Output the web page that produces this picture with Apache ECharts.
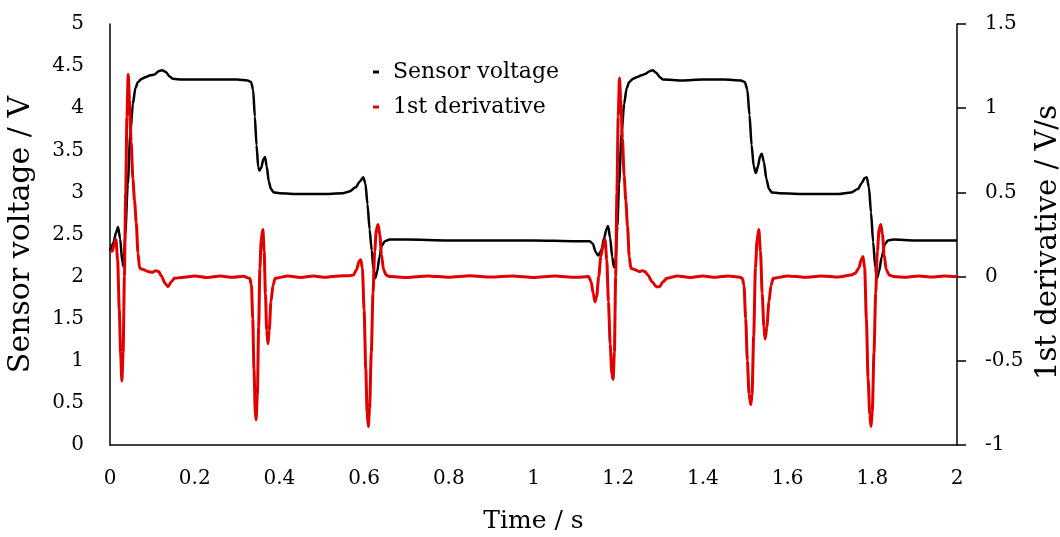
<!DOCTYPE html>
<html>
<head>
<meta charset="utf-8">
<script src="https://cdn.jsdelivr.net/npm/echarts@6/dist/echarts.min.js"></script>
<style>
  html, body { margin: 0; padding: 0; background: #fff; }
  #chart { width: 1060px; height: 537px; }
</style>
</head>
<body>
<div id="chart"></div>
<script>
// Sensor voltage (V) over time (s)
const sensorVoltage = [
  [0.000, 2.30], [0.008, 2.40], [0.014, 2.52], [0.019, 2.59], [0.024, 2.45], [0.029, 2.17],
  [0.032, 2.12], [0.036, 2.50], [0.042, 3.10], [0.048, 3.70], [0.054, 4.05], [0.060, 4.24],
  [0.066, 4.31], [0.075, 4.35], [0.085, 4.37], [0.095, 4.39], [0.105, 4.40], [0.115, 4.44],
  [0.123, 4.45], [0.132, 4.43], [0.140, 4.38], [0.148, 4.35], [0.170, 4.34], [0.200, 4.34],
  [0.250, 4.34], [0.300, 4.34], [0.325, 4.33], [0.333, 4.31], [0.338, 4.22], [0.342, 3.90],
  [0.346, 3.56], [0.350, 3.30], [0.353, 3.26], [0.357, 3.29], [0.362, 3.39], [0.366, 3.42],
  [0.370, 3.31], [0.375, 3.13], [0.380, 3.04], [0.387, 3.00], [0.400, 2.99], [0.450, 2.98],
  [0.500, 2.98], [0.550, 2.99], [0.565, 3.01], [0.580, 3.06], [0.590, 3.13], [0.598, 3.18],
  [0.603, 3.11], [0.608, 2.86], [0.613, 2.56], [0.618, 2.31], [0.622, 2.09], [0.626, 1.98],
  [0.631, 2.06], [0.636, 2.23], [0.642, 2.37], [0.649, 2.42], [0.660, 2.44], [0.700, 2.44],
  [0.800, 2.43], [0.900, 2.43], [1.000, 2.43], [1.100, 2.42], [1.133, 2.42], [1.140, 2.39],
  [1.147, 2.29], [1.153, 2.25], [1.160, 2.31], [1.167, 2.46], [1.172, 2.56], [1.176, 2.60],
  [1.181, 2.46], [1.186, 2.23], [1.190, 2.11], [1.194, 2.21], [1.198, 2.60], [1.202, 3.10],
  [1.208, 3.70], [1.214, 4.05], [1.220, 4.24], [1.226, 4.31], [1.235, 4.35], [1.245, 4.37],
  [1.255, 4.39], [1.265, 4.41], [1.274, 4.44], [1.282, 4.45], [1.290, 4.42], [1.298, 4.37],
  [1.306, 4.34], [1.350, 4.33], [1.400, 4.34], [1.450, 4.34], [1.490, 4.33], [1.499, 4.31],
  [1.505, 4.22], [1.510, 3.92], [1.515, 3.56], [1.520, 3.31], [1.525, 3.23], [1.530, 3.31],
  [1.535, 3.43], [1.539, 3.46], [1.544, 3.36], [1.550, 3.16], [1.556, 3.04], [1.563, 3.00],
  [1.580, 2.99], [1.650, 2.98], [1.720, 2.98], [1.750, 3.00], [1.766, 3.04], [1.775, 3.11],
  [1.782, 3.17], [1.787, 3.18], [1.792, 3.06], [1.797, 2.76], [1.802, 2.41], [1.807, 2.11],
  [1.811, 1.98], [1.816, 2.06], [1.822, 2.23], [1.830, 2.39], [1.837, 2.43], [1.850, 2.44],
  [1.900, 2.43], [1.950, 2.43], [2.000, 2.43]
];

// First derivative of the sensor voltage (V/s)
const firstDerivative = [
  [0.000, 0.15], [0.005, 0.15], [0.010, 0.19], [0.014, 0.22], [0.018, 0.10], [0.022, -0.20],
  [0.025, -0.45], [0.028, -0.62], [0.031, -0.45], [0.034, 0.00], [0.037, 0.50], [0.040, 0.95],
  [0.043, 1.20], [0.046, 1.05], [0.050, 0.80], [0.054, 0.58], [0.058, 0.45], [0.062, 0.32],
  [0.066, 0.14], [0.070, 0.05], [0.080, 0.04], [0.090, 0.03], [0.100, 0.025], [0.108, 0.035],
  [0.115, 0.03], [0.122, 0.00], [0.130, -0.04], [0.137, -0.06], [0.145, -0.03], [0.152, -0.01],
  [0.170, -0.005], [0.200, 0.004], [0.230, -0.006], [0.260, 0.003], [0.290, -0.004], [0.315, 0.002],
  [0.330, -0.01], [0.334, -0.05], [0.337, -0.25], [0.340, -0.55], [0.343, -0.80], [0.345, -0.85],
  [0.348, -0.70], [0.351, -0.30], [0.354, 0.05], [0.357, 0.22], [0.361, 0.28], [0.364, 0.15],
  [0.367, -0.10], [0.370, -0.32], [0.373, -0.40], [0.376, -0.32], [0.380, -0.15], [0.385, -0.05],
  [0.390, -0.01], [0.420, 0.004], [0.450, -0.005], [0.480, 0.003], [0.510, -0.004], [0.540, 0.004],
  [0.565, 0.005], [0.575, 0.01], [0.582, 0.04], [0.588, 0.09], [0.592, 0.10], [0.596, 0.05],
  [0.600, -0.20], [0.604, -0.55], [0.607, -0.80], [0.610, -0.89], [0.613, -0.78], [0.617, -0.45],
  [0.621, -0.10], [0.625, 0.15], [0.629, 0.28], [0.633, 0.31], [0.637, 0.25], [0.641, 0.13],
  [0.646, 0.04], [0.652, 0.01], [0.660, 0.00], [0.700, -0.005], [0.750, 0.004], [0.800, -0.004],
  [0.850, 0.005], [0.900, -0.003], [0.950, 0.004], [1.000, -0.005], [1.050, 0.003], [1.100, -0.004],
  [1.130, 0.00], [1.136, -0.03], [1.141, -0.10], [1.145, -0.15], [1.149, -0.12], [1.154, 0.00],
  [1.159, 0.12], [1.164, 0.18], [1.169, 0.22], [1.173, 0.10], [1.177, -0.15], [1.181, -0.40],
  [1.185, -0.58], [1.188, -0.61], [1.191, -0.45], [1.194, 0.00], [1.197, 0.50], [1.200, 0.95],
  [1.203, 1.18], [1.206, 1.05], [1.210, 0.82], [1.214, 0.60], [1.218, 0.45], [1.222, 0.30],
  [1.226, 0.12], [1.230, 0.05], [1.240, 0.04], [1.250, 0.03], [1.257, 0.035], [1.263, 0.03],
  [1.270, 0.01], [1.280, -0.03], [1.290, -0.06], [1.298, -0.06], [1.306, -0.03], [1.315, -0.01],
  [1.340, 0.004], [1.370, -0.005], [1.400, 0.003], [1.430, -0.004], [1.460, 0.004], [1.485, -0.003],
  [1.493, -0.01], [1.497, -0.05], [1.501, -0.25], [1.505, -0.50], [1.509, -0.70], [1.513, -0.76],
  [1.516, -0.70], [1.520, -0.35], [1.524, 0.05], [1.528, 0.22], [1.532, 0.28], [1.536, 0.15],
  [1.540, -0.10], [1.544, -0.30], [1.547, -0.37], [1.551, -0.30], [1.556, -0.15], [1.561, -0.05],
  [1.566, -0.01], [1.600, 0.004], [1.640, -0.004], [1.680, 0.003], [1.720, -0.003], [1.750, 0.01],
  [1.760, 0.02], [1.768, 0.05], [1.774, 0.10], [1.778, 0.12], [1.782, 0.05], [1.786, -0.25],
  [1.790, -0.60], [1.794, -0.82], [1.797, -0.89], [1.800, -0.80], [1.804, -0.45], [1.808, -0.10],
  [1.812, 0.15], [1.816, 0.28], [1.820, 0.31], [1.824, 0.25], [1.828, 0.13], [1.833, 0.04],
  [1.840, 0.01], [1.850, 0.00], [1.880, -0.004], [1.910, 0.004], [1.940, -0.003], [1.970, 0.004],
  [2.000, 0.00]
];

const timeTicks = { min: 0, max: 2, interval: 0.2 };
const voltageTicks = { min: 0, max: 5, interval: 0.5 };
const derivativeTicks = { min: -1, max: 1.5, interval: 0.5 };

const FONT = '"DejaVu Serif", "Liberation Serif", serif';

const chart = echarts.init(document.getElementById('chart'), null, { renderer: 'canvas' });

chart.setOption({
  animation: false,
  backgroundColor: '#ffffff',
  grid: {
    left: 110, right: 103, top: 24, bottom: 92,
    containLabel: false,
    outerBoundsMode: 'none'
  },
  legend: {
    orient: 'vertical',
    left: 368,
    top: 56,
    itemGap: 13,
    itemWidth: 6,
    itemHeight: 3,
    icon: 'rect',
    textStyle: { fontFamily: FONT, fontSize: 22, color: '#000', padding: [0, 0, 0, 9] },
    data: [
      { name: 'Sensor voltage', itemStyle: { color: '#000000' } },
      { name: '1st derivative', itemStyle: { color: '#e00000' } }
    ]
  },
  xAxis: {
    type: 'value',
    min: timeTicks.min,
    max: timeTicks.max,
    interval: timeTicks.interval,
    name: 'Time / s',
    nameLocation: 'middle',
    nameGap: 64,
    nameTextStyle: { fontFamily: FONT, fontSize: 25, color: '#000' },
    axisLine: { show: true, onZero: false, lineStyle: { color: '#000', width: 1.5 } },
    axisTick: { show: false },
    splitLine: { show: false },
    axisLabel: { fontFamily: FONT, fontSize: 20, color: '#000', margin: 24 }
  },
  yAxis: [
    {
      type: 'value',
      position: 'left',
      min: voltageTicks.min,
      max: voltageTicks.max,
      interval: voltageTicks.interval,
      name: 'Sensor voltage / V',
      nameLocation: 'middle',
      nameGap: 74,
      nameTextStyle: { fontFamily: FONT, fontSize: 30, color: '#000' },
      axisLine: { show: true, onZero: false, lineStyle: { color: '#000', width: 1.5 } },
      axisTick: { show: false },
      splitLine: { show: false },
      axisLabel: { fontFamily: FONT, fontSize: 20, color: '#000', margin: 26 }
    },
    {
      type: 'value',
      position: 'right',
      min: derivativeTicks.min,
      max: derivativeTicks.max,
      interval: derivativeTicks.interval,
      name: '1st derivative / V/s',
      nameLocation: 'middle',
      nameGap: 71,
      nameRotate: 90,
      nameTextStyle: { fontFamily: FONT, fontSize: 29, color: '#000', padding: [0, 16, 0, 0] },
      axisLine: { show: true, onZero: false, lineStyle: { color: '#000', width: 1.5 } },
      axisTick: { show: true, inside: false, length: 9, lineStyle: { color: '#000', width: 1.5 } },
      splitLine: { show: false },
      axisLabel: { fontFamily: FONT, fontSize: 20, color: '#000', margin: 28 }
    }
  ],
  series: [
    {
      name: 'Sensor voltage',
      type: 'line',
      yAxisIndex: 0,
      data: sensorVoltage,
      showSymbol: false,
      smooth: 0.25,
      smoothMonotone: 'x',
      lineStyle: { color: '#000000', width: 2.5 },
      itemStyle: { color: '#000000' },
      z: 2
    },
    {
      name: '1st derivative',
      type: 'line',
      yAxisIndex: 1,
      data: firstDerivative,
      showSymbol: false,
      smooth: 0.25,
      smoothMonotone: 'x',
      lineStyle: { color: '#e00000', width: 3 },
      itemStyle: { color: '#e00000' },
      z: 3
    }
  ]
});
</script>
</body>
</html>
